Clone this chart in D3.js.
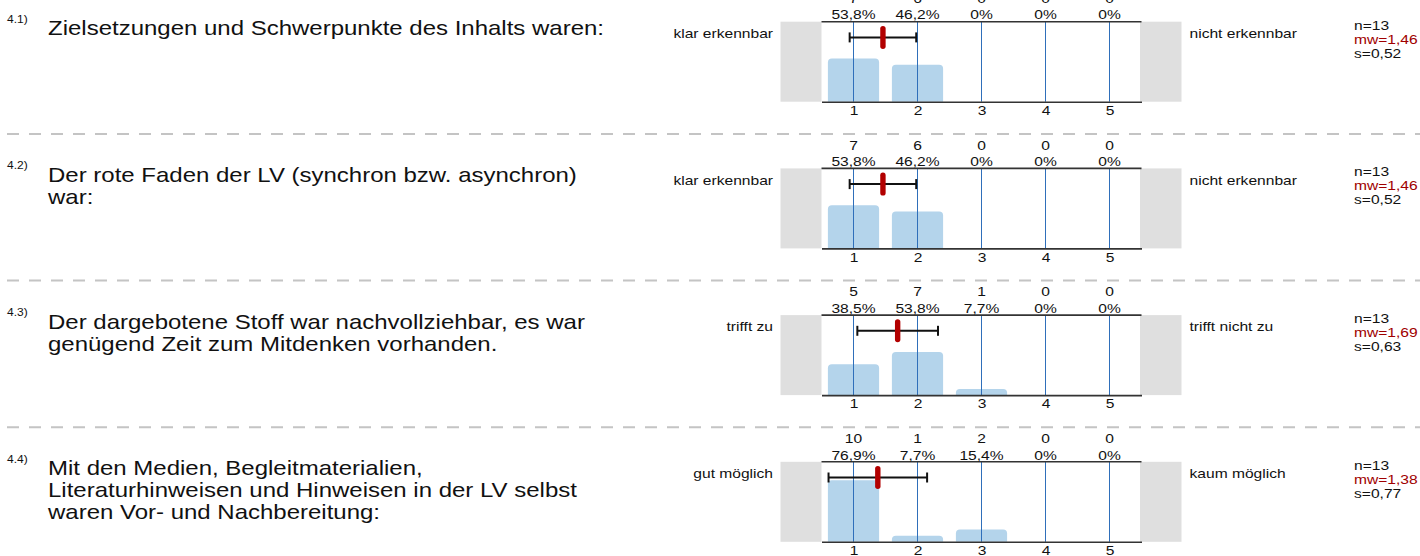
<!DOCTYPE html>
<html>
<head>
<meta charset="utf-8">
<script src="https://cdn.jsdelivr.net/npm/d3@7"></script>
<style>
  body { margin: 0; background: #fff; }
  svg { display: block; font-family: "Liberation Sans", Arial, sans-serif; }
</style>
</head>
<body>
<div id="chart"></div>
<script>
// data
const numbers = ["4.1)", "4.2)", "4.3)", "4.4)"];
const questions = [
  ["Zielsetzungen und Schwerpunkte des Inhalts waren:"],
  ["Der rote Faden der LV (synchron bzw. asynchron)", "war:"],
  ["Der dargebotene Stoff war nachvollziehbar, es war", "genügend Zeit zum Mitdenken vorhanden."],
  ["Mit den Medien, Begleitmaterialien,", "Literaturhinweisen und Hinweisen in der LV selbst", "waren Vor- und Nachbereitung:"]
];
const leftLabels = ["klar erkennbar", "klar erkennbar", "trifft zu", "gut möglich"];
const rightLabels = ["nicht erkennbar", "nicht erkennbar", "trifft nicht zu", "kaum möglich"];
const scaleValues = [1, 2, 3, 4, 5];
const counts = [
  [7, 6, 0, 0, 0],
  [7, 6, 0, 0, 0],
  [5, 7, 1, 0, 0],
  [10, 1, 2, 0, 0]
];
const percents = [
  ["53,8%", "46,2%", "0%", "0%", "0%"],
  ["53,8%", "46,2%", "0%", "0%", "0%"],
  ["38,5%", "53,8%", "7,7%", "0%", "0%"],
  ["76,9%", "7,7%", "15,4%", "0%", "0%"]
];
const nValues = [13, 13, 13, 13];
const means = [1.46, 1.46, 1.69, 1.38];
const sds = [0.52, 0.52, 0.63, 0.77];

const W = 1420, H = 556;
const panelTop0 = 21.7, panelStep = 146.7, plotH = 80;
const stretch = 1.2; // the source's text is drawn wider than Arial
const fmt = v => d3.format(".2f")(v).replace(".", ",");

const svg = d3.select("#chart").append("svg")
  .attr("width", W).attr("height", H);

// text widened horizontally around its anchor point
function label(g, x, y, str, size, anchor, color) {
  return g.append("text")
    .attr("transform", `translate(${x},${y}) scale(${stretch},1)`)
    .attr("dy", "0.35em")
    .attr("text-anchor", anchor || "start")
    .attr("font-size", size)
    .attr("fill", color || "#111")
    .text(str);
}

var x = d3.scaleLinear().domain([0.5, 5.5]).range([821.5, 1141.5]);
var barW = (x(2) - x(1)) * 0.8;

numbers.forEach(function(num, i) {
  const top = panelTop0 + i * panelStep;
  const bottom = top + plotH;
  var y = d3.scaleLinear().domain([0, 100]).range([bottom, top]);
  const g = svg.append("g");

  // dashed separator above the panel
  g.append("line")
    .attr("x1", 0).attr("x2", W)
    .attr("y1", top - 34.5).attr("y2", top - 34.5)
    .attr("stroke", "#c4c4c4").attr("stroke-width", 2)
    .attr("stroke-dasharray", "12,10")
    .attr("stroke-dashoffset", -7);

  // question
  label(g, 7, top - 2.5, num, 10);
  questions[i].forEach(function(line, k) {
    label(g, 48, top + 6.5 + k * 22, line, 20);
  });

  // side labels
  label(g, 773, top + 11.7, leftLabels[i], 13, "end");
  label(g, 1189.5, top + 11.7, rightLabels[i], 13);

  // gray boxes
  g.append("rect").attr("x", x(0.5) - 41).attr("y", top)
    .attr("width", 41).attr("height", plotH).attr("fill", "#dfdfdf");
  g.append("rect").attr("x", x(5.5) - 1.5).attr("y", top)
    .attr("width", 41.5).attr("height", plotH).attr("fill", "#dfdfdf");

  // bars
  const total = d3.sum(counts[i]);
  counts[i].forEach(function(c, j) {
    if (c === 0) return;
    const pct = c / total * 100;
    const bx = x(scaleValues[j]) - barW / 2, by = y(pct), r = Math.min(4, bottom - by);
    g.append("path")
      .attr("fill", "#b4d4eb")
      .attr("d", `M${bx},${bottom}V${by + r}Q${bx},${by} ${bx + r},${by}H${bx + barW - r}Q${bx + barW},${by} ${bx + barW},${by + r}V${bottom}Z`);
  });

  // grid lines
  g.selectAll(".grid").data(scaleValues).enter().append("line")
    .attr("x1", d => x(d)).attr("x2", d => x(d))
    .attr("y1", top).attr("y2", bottom)
    .attr("stroke", "#2f6fba").attr("stroke-width", 1);

  // top and bottom lines
  g.append("line").attr("x1", x(0.5)).attr("x2", x(5.5))
    .attr("y1", top).attr("y2", top)
    .attr("stroke", "#333").attr("stroke-width", 1.6);

  const ax = g.append("g").attr("transform", `translate(0,${bottom})`)
    .call(d3.axisBottom(x).tickValues(scaleValues).tickSize(0).tickPadding(4)
      .tickFormat(d3.format("d")));
  ax.select(".domain").attr("stroke", "#333").attr("stroke-width", 1.6);
  ax.selectAll("text").attr("font-size", 13).attr("fill", "#111")
    .attr("font-family", "Liberation Sans, Arial, sans-serif")
    .attr("transform", `scale(${stretch},1)`);

  // counts and percents
  scaleValues.forEach(function(v, j) {
    label(g, x(v), top - 23.3, counts[i][j], 13, "middle");
    label(g, x(v), top - 6.8, percents[i][j], 13, "middle");
  });

  // error bar: mean +- s
  const ey = top + 15.7;
  const x0 = x(means[i] - sds[i]), x1 = x(means[i] + sds[i]);
  g.append("line").attr("x1", x0).attr("x2", x1).attr("y1", ey).attr("y2", ey)
    .attr("stroke", "#111").attr("stroke-width", 2);
  [x0, x1].forEach(function(xx) {
    g.append("line").attr("x1", xx).attr("x2", xx).attr("y1", ey - 5).attr("y2", ey + 5)
      .attr("stroke", "#111").attr("stroke-width", 2);
  });
  g.append("rect").attr("x", x(means[i]) - 2.7).attr("y", ey - 11.5)
    .attr("width", 5.4).attr("height", 23).attr("rx", 2.7)
    .attr("fill", "#b20000");

  // stats
  label(g, 1354, top + 3.5, "n=" + nValues[i], 13);
  label(g, 1354, top + 17.5, "mw=" + fmt(means[i]), 13, "start", "#a00000");
  label(g, 1354, top + 31.5, "s=" + fmt(sds[i]), 13);
});
</script>
</body>
</html>
